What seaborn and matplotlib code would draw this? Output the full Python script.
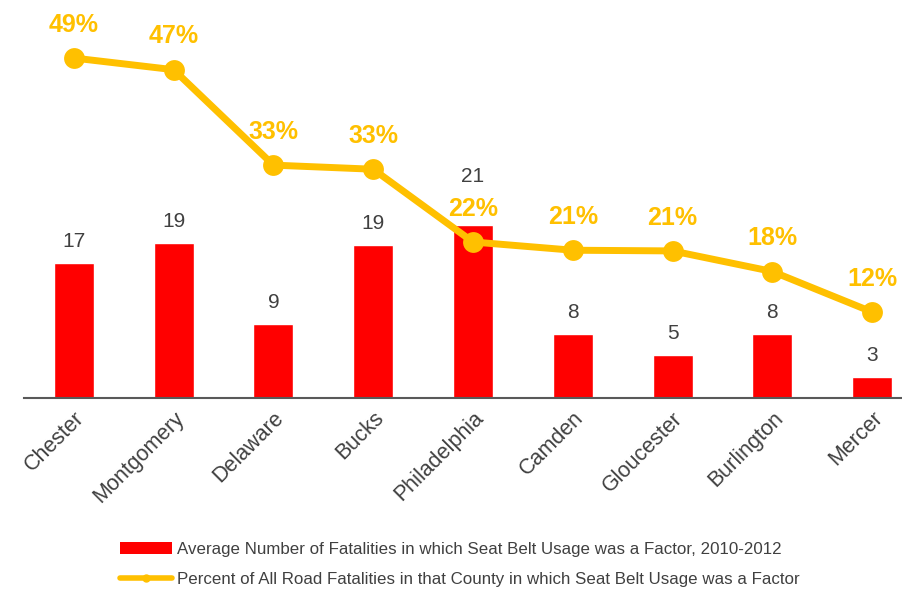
import numpy as np
import seaborn as sns
import matplotlib.pyplot as plt
from matplotlib import font_manager
from matplotlib.lines import Line2D
from matplotlib.patches import Patch

counties = ['Chester', 'Montgomery', 'Delaware', 'Bucks', 'Philadelphia',
            'Camden', 'Gloucester', 'Burlington', 'Mercer']
fatalities = [16.6, 19.0, 9.1, 18.8, 21.2, 7.9, 5.3, 7.9, 2.6]
pct_seatbelt = [49.0, 47.3, 33.4, 32.8, 22.2, 21.0, 20.9, 17.9, 12.0]

bar_label = 'Average Number of Fatalities in which Seat Belt Usage was a Factor, 2010-2012'
line_label = 'Percent of All Road Fatalities in that County in which Seat Belt Usage was a Factor'

RED = '#FF0000'
GOLD = '#FFC000'
GREY = '#404040'

sns.set_style('white')
plt.rcParams['font.family'] = ['Liberation Sans', 'DejaVu Sans']

# legend in the original uses a narrow face
names = {f.name for f in font_manager.fontManager.ttflist}
if 'Liberation Sans Narrow' in names:
    leg_font = {'family': 'Liberation Sans Narrow', 'size': 14.5}
else:
    leg_font = {'family': 'Liberation Sans', 'size': 12.2}

fig = plt.figure(figsize=(9.03, 5.92), dpi=100)
ax = fig.add_axes([24 / 903, 194 / 592, 898 / 903, 388 / 592])

sns.barplot(x=counties, y=fatalities, color=RED, saturation=1, width=0.4, ax=ax)
ax.set_xlim(-0.5, 8.5)
ax.set_ylim(0, 47.6)

ax2 = ax.twinx()
sns.lineplot(x=np.arange(len(counties)), y=pct_seatbelt, ax=ax2, color=GOLD,
             linewidth=5, marker='o', markersize=15, markeredgewidth=0)
ax2.set_ylim(-0.53, 56.0)

# value labels
for i, v in enumerate(fatalities):
    off = 31 if counties[i] == 'Philadelphia' else 11.5
    ax.annotate(f'{v:.0f}', (i, v), xytext=(0, off), textcoords='offset points',
                ha='center', va='baseline', fontsize=15, color=GREY)
for i, p in enumerate(pct_seatbelt):
    ax2.annotate(f'{p:.0f}%', (i, p), xytext=(0, 19), textcoords='offset points',
                 ha='center', va='baseline', fontsize=18, fontweight='bold', color=GOLD)

for a in (ax, ax2):
    a.set_yticks([])
    a.set_ylabel('')
    for s in ('top', 'left', 'right'):
        a.spines[s].set_visible(False)
ax2.spines['bottom'].set_visible(False)
ax.spines['bottom'].set_color('#595959')
ax.spines['bottom'].set_linewidth(1.5)

ax.tick_params(axis='x', length=0, pad=7)
plt.setp(ax.get_xticklabels(), rotation=45, ha='right', rotation_mode='anchor',
         fontsize=15.5, color=GREY)

handles = [Patch(facecolor=RED, edgecolor='none'),
           Line2D([0], [0], color=GOLD, linewidth=4, marker='o', markersize=5)]
fig.legend(handles, [bar_label, line_label], loc='center',
           bbox_to_anchor=(460 / 903, 0.047), frameon=False, prop=leg_font,
           handlelength=52 / 1.389 / leg_font['size'], handletextpad=0.3,
           labelspacing=0.9, labelcolor=GREY)

fig.savefig('out.png', dpi=100)
